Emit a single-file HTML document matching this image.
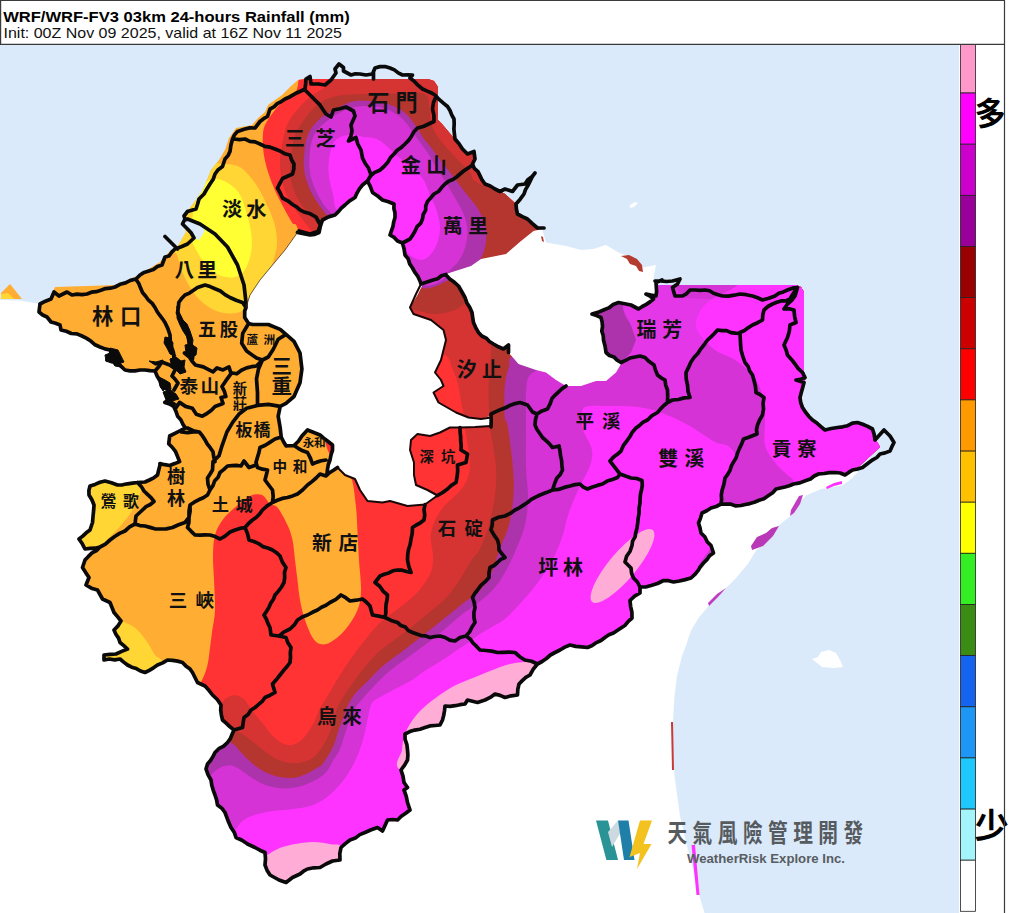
<!DOCTYPE html><html><head><meta charset="utf-8"><title>WRF Rainfall</title><style>html,body{margin:0;padding:0;background:#fff;font-family:"Liberation Sans",sans-serif}svg{display:block}</style></head><body><svg width="1024" height="913" viewBox="0 0 1024 913" style="display:block">
<rect width="1024" height="913" fill="#fff"/>
<rect x="0" y="45" width="959" height="868" fill="#dbeafa"/>
<path d="M0 300 L20 300.5 L40 304 L39 312 L47 317 L51 322 L60 325 L61 330 L82 336 L100 347 L110 350 L112 356 L107 360 L117 362 L125 370 L155 371 L159.9 380.7 L161.8 386.6 L169.7 390.6 L171.7 396.5 L164.8 402.4 L173.7 406.4 L177.6 416.2 L185.5 428 L169.7 436 L168.7 443.8 L175.6 451.7 L179.6 461.6 L169.7 465.5 L159.9 463.6 L160 465 L157.5 475 L145 482 L137.5 482.5 L117.5 485 L105 481 L90 486 L89 495 L94 505 L92.5 522.5 L90 530 L79 539 L85 549 L100 547 L85 560 L82.5 567.5 L89 577.5 L86 585 L97.5 590 L102.5 599 L110 602.5 L114 612.5 L121 621 L114 630 L120 642.5 L127.5 649 L116 654 L104 655 L104 660 L120 659 L127.5 665 L145 672.5 L157.5 665 L167.5 660 L182.5 662.5 L192.5 672.5 L197.5 682.5 L205 686 L212.5 695 L221 705 L222.5 720 L234 730 L227.5 742.5 L215 752.5 L207.5 764 L206 769 L211 780 L215 795 L217.5 805 L225 812.5 L231 827.5 L236 837.5 L247.5 844 L255 847.5 L265 852.5 L265 865 L270 875 L279 880 L286 882.5 L292.5 877.5 L300 874 L307.5 869 L320 867.5 L326 864 L332.5 861 L340 860 L341 847.5 L350 840 L365 832.5 L377.5 827.5 L382.5 831 L387.5 820 L397.5 820 L410 810 L407.5 802.5 L404 790 L407.5 787.5 L404 782.5 L401 770 L407.5 760 L407.5 750 L405 734 L425 727.5 L440 725 L442.5 720 L445 706 L465 704 L467.5 700 L477.5 702.5 L485 700 L495 694 L505 697.5 L517.5 695 L519 684 L530 675 L537.5 664 L555 652.5 L570 645 L587.5 647.5 L601 640.5 L613.5 633 L621 628 L632 618 L630 600.5 L640 593 L640 587 L651 585.5 L663.5 580.5 L673.5 582 L691 578 L703.5 563 L713.5 553 L711 545.5 L701 533 L698.5 523 L702 513 L711 508 L721 504 L741 505.5 L758.5 500.5 L768.5 495.5 L776 489 L793.5 484 L806 480.5 L818.5 474 L835 472.5 L845 475 L852.5 470 L858 472 L850 480 L842 485.5 L821 489 L806 495.5 L798.5 503 L791 515.5 L778.5 525.5 L771 538 L756 550.5 L748.5 563 L736 578 L726 588 L711 603 L698.5 618 L691 630.5 L686 645.5 L682 656 L677 676 L674.5 696 L672 736 L674.5 776 L680 816 L689.5 856 L699.5 896 L704.5 913 L0 913Z" fill="#fff"/>
<path d="M812 659l6-2 3-5 8-2 7 3 4 7 3 7-9 1-12-1-5-4z" fill="#fff"/>
<path d="M630 205l5-3 3 1-4 4-4 1z" fill="#fff"/>
<defs><clipPath id="cp"><path d="M39 305 L50 298 L55 287 L118 285 L137 276 L160 262 L170 251 L178 246 L186 232 L183 222 L184 214 L190 208 L196 200 L203 190 L207 180 L211 170 L219 160 L225 150 L229 138 L236 128 L252 125 L258 118 L265 112 L268 105 L282 95 L291 86 L298 80 L304 79 L428 79 L434 81 L438 87 L438 120 L442 124 L453 137 L458 146 L467 153 L474 151 L476 160 L473 164 L485 183 L500 191 L505 194 L516 204 L517.5 214 L527.5 219 L537.5 228 L542 229 L540 240 L560 260 L600 280 L640 286 L656 283 L657 285 L796 285 L801 287 L804 292 L804 372 L806 378 L804 382.5 L801 397.5 L803.5 407.5 L813 419.5 L825 429.5 L837.5 427 L857.5 422 L872.5 428.5 L876 440 L880 447 L866 460 L855 470 L845 475 L835 472.5 L818.5 474 L806 480.5 L793.5 484 L776 489 L768.5 495.5 L758.5 500.5 L741 505.5 L721 504 L711 508 L702 513 L698.5 523 L701 533 L711 545.5 L713.5 553 L703.5 563 L691 578 L673.5 582 L663.5 580.5 L651 585.5 L640 587 L640 593 L630 600.5 L632 618 L621 628 L613.5 633 L601 640.5 L587.5 647.5 L570 645 L555 652.5 L537.5 664 L530 675 L519 684 L517.5 695 L505 697.5 L495 694 L485 700 L477.5 702.5 L467.5 700 L465 704 L445 706 L442.5 720 L440 725 L425 727.5 L405 734 L407.5 750 L407.5 760 L401 770 L404 782.5 L407.5 787.5 L404 790 L407.5 802.5 L410 810 L397.5 820 L387.5 820 L382.5 831 L377.5 827.5 L365 832.5 L350 840 L341 847.5 L340 860 L332.5 861 L326 864 L320 867.5 L307.5 869 L300 874 L292.5 877.5 L286 882.5 L279 880 L270 875 L265 865 L265 852.5 L255 847.5 L247.5 844 L236 837.5 L231 827.5 L225 812.5 L217.5 805 L215 795 L211 780 L206 769 L207.5 764 L215 752.5 L227.5 742.5 L234 730 L222.5 720 L221 705 L212.5 695 L205 686 L197.5 682.5 L192.5 672.5 L182.5 662.5 L167.5 660 L157.5 665 L145 672.5 L127.5 665 L120 659 L104 660 L104 655 L116 654 L127.5 649 L120 642.5 L114 630 L121 621 L114 612.5 L110 602.5 L102.5 599 L97.5 590 L86 585 L89 577.5 L82.5 567.5 L85 560 L100 547 L85 549 L79 539 L90 530 L92.5 522.5 L94 505 L89 495 L90 486 L105 481 L117.5 485 L137.5 482.5 L145 482 L157.5 475 L160 465 L159.9 463.6 L169.7 465.5 L179.6 461.6 L175.6 451.7 L168.7 443.8 L169.7 436 L185.5 428 L177.6 416.2 L173.7 406.4 L164.8 402.4 L171.7 396.5 L169.7 390.6 L161.8 386.6 L159.9 380.7 L155 371 L125 370 L117 362 L107 360 L112 356 L110 350 L100 347 L82 336 L61 330 L60 325 L51 322 L47 317 L39 312Z"/></clipPath></defs>
<g clip-path="url(#cp)">
<rect x="0" y="40" width="1024" height="880" fill="#ffad33"/>
<path d="M222 163.8C227.4 164 233.2 164.2 237.6 166C242 167.8 244.8 170.7 248.5 174.7C252.2 178.7 256.2 184.5 259.5 190C262.8 195.5 265.6 201.8 268.2 207.6C270.8 213.4 273.3 219.2 274.8 225C276.3 230.8 277 237.5 277 242.6C277 247.7 276.3 250.4 274.8 255.8C273.3 261.2 271.3 267.6 268 275C264.7 282.4 258.6 294.5 255 300C251.4 305.5 249.2 305.9 246.3 308C243.4 310.1 241.6 311.9 237.6 312.7C233.6 313.5 227.4 313.8 222.3 312.7C217.2 311.6 211.8 309.3 207 306C202.2 302.7 197.8 298.4 193.8 293C189.8 287.6 185.6 279.6 182.8 273.3C180 267 178.8 259.7 177 255C175.2 250.3 170.7 254.2 172 245C173.3 235.8 179.5 213.3 185 200C190.5 186.7 198.8 171 205 165C211.2 159 216.6 163.6 222 163.8Z" fill="#ffd633"/>
<path d="M204.7 183.5C208 180 211.7 179 215.7 179C219.7 179 224.8 180.9 228.8 183.5C232.8 186.1 236.9 189.7 239.8 194.4C242.7 199.2 244.5 206.2 246.3 212C248.1 217.8 249.8 223.7 250.7 229.5C251.6 235.3 252.2 241.5 251.8 247C251.4 252.5 250.1 257.9 248.5 262.3C246.9 266.7 244.9 270.7 242 273.3C239.1 275.9 235.4 277.7 231 277.7C226.6 277.7 220.4 276.2 215.7 273.3C211 270.4 205.7 263.6 202.6 260C199.5 256.4 198.8 254.7 197 251.4C195.2 248.1 192.8 244.9 192 240C191.2 235.1 191.3 228.7 192 222C192.7 215.3 193.9 206.4 196 200C198.1 193.6 201.4 187 204.7 183.5Z" fill="#ffff33"/>
<path d="M85 476C94.3 465.3 118.7 474.7 128 476C137.3 477.3 139.2 480.5 141 484C142.8 487.5 140.5 492.5 139 497C137.5 501.5 135.2 506 132 511C128.8 516 123.4 522.5 119.6 527C115.8 531.5 112.3 534.2 109 537.7C105.7 541.2 104 545.1 100 548C96 550.9 89.7 556.3 85 555C80.3 553.7 72 553.2 72 540C72 526.8 75.7 486.7 85 476Z" fill="#ffd633"/>
<path d="M100 615C104.2 605.4 118.8 620 125 622.5C131.2 625 133.8 626.7 137.5 630C141.2 633.3 144.6 638.3 147.5 642.5C150.4 646.7 152.5 651.8 155 655C157.5 658.2 160.8 657.8 162.5 662C164.2 666.2 175.4 677 165 680C154.6 683 110.8 690.8 100 680C89.2 669.2 95.8 624.6 100 615Z" fill="#ffd633"/>
<path d="M300 60C299.5 64.8 299 83 297 89C295 95 291.7 92.5 288 96C284.3 99.5 278.8 105.2 275 110C271.2 114.8 267 120.4 265 125C263 129.6 263 132.5 262.8 137.5C262.6 142.5 263 149.2 263.9 155C264.8 160.8 266.4 166.7 268.2 172.5C270 178.3 272.2 184.2 274.8 190C277.4 195.8 280.7 202.1 283.6 207.6C286.5 213.1 289.7 219 292.3 223C294.9 227 294.4 218.9 299 231.7C303.6 244.5 312.3 271.9 320 300C327.7 328.1 344 378 345 400C346 422 328.5 422.8 326 432C323.5 441.2 326.8 448 330 455C333.2 462 341.3 469.8 345 474C348.7 478.2 350.2 474.5 352 480C353.8 485.5 355.1 498.3 356 507C356.9 515.7 357 523.2 357.5 532C358 540.8 358.4 550.3 359 560C359.6 569.7 361.2 581.7 361 590C360.8 598.3 360.2 603.3 357.5 610C354.8 616.7 349.6 624.6 345 630C340.4 635.4 334.2 640.2 330 642.5C325.8 644.8 322.9 644.8 320 644C317.1 643.2 315 641.5 312.5 637.5C310 633.5 307.1 626.2 305 620C302.9 613.8 301.2 606.7 300 600C298.8 593.3 298.3 586.7 297.5 580C296.7 573.3 295.8 566.7 295 560C294.2 553.3 293.8 545.8 292.5 540C291.2 534.2 290 530.4 287.5 525C285 519.6 280.4 511 277.5 507.5C274.6 504 272.6 506.1 270 504C267.4 501.9 265.3 496.3 262 495C258.7 493.7 254.5 493.9 250 496C245.5 498.1 239.6 503.5 235 507.5C230.4 511.5 225.8 515.4 222.5 520C219.2 524.6 216.6 529.2 215 535C213.4 540.8 213.2 547.5 213 555C212.8 562.5 213.7 570.8 214 580C214.3 589.2 215.3 601.3 215 610C214.7 618.7 212.8 625.7 212 632C211.2 638.3 210.8 642.5 210 648C209.2 653.5 208.8 659.7 207.5 665C206.2 670.3 204.9 674.2 202 680C199.1 685.8 192 696.7 190 700L150 760L150 930L1010 930L1010 40Z" fill="#ff3333"/>
<path d="M400 280C400 290.8 392.8 332.7 400 345C407.2 357.3 434.3 350.2 443 354C451.7 357.8 449.5 363 452 368C454.5 373 456.5 378.5 458 384C459.5 389.5 460 395.7 461 401C462 406.3 463.3 411.6 464 416C464.7 420.4 464 419.3 465 427.5C466 435.7 470.3 455.1 470 465C469.7 474.9 467.8 479.5 463 487C458.2 494.5 446.3 502.3 441 510C435.7 517.7 432.3 525.3 431 533C429.7 540.7 433 549.5 433 556C433 562.5 433 566.6 431 572C429 577.4 424.4 583.6 420.8 588.3C417.2 593 414 595.9 409.3 600C404.6 604.1 397.6 609 392.7 612.7C387.8 616.5 384.6 618 380 622.5C375.4 627 370 633.8 365 640C360 646.2 354.7 653.3 350 660C345.3 666.7 340.8 673.8 337 680C333.2 686.2 329.9 692.2 327 697C324.1 701.8 322.2 704 319.9 708.5C317.6 713 315.9 719 313.3 723.8C310.7 728.5 307.8 733.5 304.5 737C301.2 740.5 297.2 743.5 293.6 744.6C290 745.7 286.2 745.1 282.6 743.5C279 741.9 275 738.1 271.7 734.8C268.4 731.5 265.8 727.4 262.9 723.8C259.9 720.1 256.6 716.2 254 712.9C251.4 709.6 249.4 706.4 247.6 704C245.8 701.6 245.4 700.1 243.2 698.6C241 697.1 237.3 695.3 234.4 695.3C231.5 695.3 228.1 697.1 225.7 698.6C223.3 700.1 223.6 702.1 220.2 704C216.8 705.9 207.5 709 205 710L150 760L150 930L1010 930L1010 40L400 40Z" fill="#d63333"/>
<path d="M400 270C400 276.2 397.7 300.3 400 307C402.3 313.7 408.2 308.8 414 310C419.8 311.2 428.7 313.8 435 314C441.3 314.2 447.3 312.5 452 311C456.7 309.5 459.3 307.5 463 305C466.7 302.5 470.3 293.5 474 296C477.7 298.5 482.2 311.5 485 320C487.8 328.5 490.3 339 491 347C491.7 355 489.8 360.4 489.4 368C489 375.6 488.5 385.1 488.5 392.7C488.5 400.3 489.1 407.9 489.4 413.7C489.6 419.5 488.9 418.8 490 427.5C491.1 436.2 495.2 454.8 496 466C496.8 477.2 496.2 485.2 495 495C493.8 504.8 491.6 515.9 489 525C486.4 534.1 482.5 543.6 479.6 549.4C476.7 555.2 474.7 555.3 471.6 560C468.5 564.7 465.1 571.6 461 577.8C456.9 584 452.4 591.2 447 597C441.6 602.8 434.6 607.8 428.8 612.7C423 617.6 417.7 622 412.2 626.4C406.7 630.8 401 634.9 395.6 639C390.2 643.1 385.1 646.1 380 650.8C374.9 655.5 369.7 661.5 365 667C360.3 672.5 355.8 678.7 352 684C348.2 689.3 344.6 694.8 342 699C339.4 703.2 338.4 704.8 336.7 709.5C335 714.2 333.6 721.5 331.6 727C329.7 732.5 327.9 737.4 325 742.4C322.1 747.4 317.7 753.7 314 757C310.3 760.3 306.8 761 303 762C299.2 763 295.9 763.7 291.4 763.2C286.9 762.7 280.8 761.1 276 758.9C271.2 756.7 266.9 752.9 262.9 750C258.9 747.1 255.3 743.8 252 741.3C248.7 738.8 245.8 736.4 243.2 734.8C240.6 733.2 241.3 733.6 236.6 731.5C231.9 729.4 218.6 723.6 215 722L150 760L150 930L1010 930L1010 270Z" fill="#b4362f"/>
<path d="M330 60C291.7 62.7 330.7 71.7 330 76C329.3 80.3 329.3 82.5 326 86C322.7 89.5 314.8 93 310 97C305.2 101 300.8 105.3 297 110C293.2 114.7 289.5 119.2 287 125C284.5 130.8 283.2 138.3 282 145C280.8 151.7 279.8 158.3 280 165C280.2 171.7 281.2 178.7 283 185C284.8 191.3 287.7 197.2 291 203C294.3 208.8 299 214.7 303 220C307 225.3 310.5 230 315 235C319.5 240 319.2 245.5 330 250C340.8 254.5 365.8 257.8 380 262C394.2 266.2 406.3 272.2 415 275C423.7 277.8 426.2 279.5 432 279C437.8 278.5 442 274.8 450 272C458 269.2 461.7 267.3 480 262C498.3 256.7 546.7 273.7 560 240C573.3 206.3 598.3 90 560 60C521.7 30 368.3 57.3 330 60Z" fill="#d63333"/>
<path d="M425 94C420.2 92.1 409.2 93.5 400 93.5C390.8 93.5 379.2 93.8 370 94C360.8 94.2 351.7 94.3 345 95C338.3 95.7 334.8 96.2 330 98C325.2 99.8 320.3 102.3 316 106C311.7 109.7 307.5 115.2 304 120C300.5 124.8 297 130 295 135C293 140 292.8 144.2 292 150C291.2 155.8 289.8 163.7 290 170C290.2 176.3 291 182.2 293 188C295 193.8 298.5 199.7 302 205C305.5 210.3 310.2 215.5 314 220C317.8 224.5 320.7 227.8 325 232C329.3 236.2 330.8 240 340 245C349.2 250 367.5 257 380 262C392.5 267 406.3 272.2 415 275C423.7 277.8 426.2 279.5 432 279C437.8 278.5 442 274.8 450 272C458 269.2 461.7 267.3 480 262C498.3 256.7 546.7 247.8 560 240C573.3 232.2 573 224.2 560 215C547 205.8 497 192.2 482 185C467 177.8 474 176.2 470 172C466 167.8 462 164.2 458 160C454 155.8 449.7 151.3 446 147C442.3 142.7 438.5 138.2 436 134C433.5 129.8 432.2 126.8 431 122C429.8 117.2 430 109.7 429 105C428 100.3 429.8 95.9 425 94Z" fill="#b4362f"/>
<path d="M590 270C590 280 595 316.7 590 330C585 343.3 572.5 345.8 560 350C547.5 354.2 523.5 352 515 355C506.4 358 510.4 363.2 508.7 368C507 372.8 505.7 378.4 505 384C504.3 389.6 504.3 395.6 504.3 401.4C504.3 407.2 504.4 414.8 505 419C505.6 423.2 506.5 418.7 507.8 426.6C509.1 434.5 511.8 455 512.8 466.4C513.8 477.8 514.1 485.2 513.5 495C512.9 504.8 511.3 515.9 509 525C506.7 534.1 502.5 541.2 499.5 549.4C496.5 557.6 494.5 567.2 491 574.3C487.5 581.4 482.9 587.4 478.7 591.9C474.5 596.4 470.1 597.9 466 601C461.9 604.1 458.8 606.8 454.2 610.5C449.6 614.2 444 618.8 438.6 623C433.2 627.2 427.7 631.5 422 636C416.3 640.5 409.8 645.7 404.4 649.8C399 653.9 393.9 657.4 389.8 660.5C385.7 663.6 383.9 664.8 380 668.4C376.1 672 371 677.6 366.7 682C362.4 686.4 357.4 690.4 354 695C350.6 699.6 348.5 703.8 346 709.5C343.5 715.2 341.2 723 339 729.2C336.8 735.4 335.5 741.3 333 746.8C330.5 752.3 326.6 758.5 324 762C321.4 765.5 321.7 765.2 317.7 767.6C313.7 770 306 774.8 300.1 776.4C294.2 778 288.5 778.2 282.6 777.5C276.8 776.8 270.1 774.4 265 772C259.9 769.6 256 766.5 252 763.2C248 759.9 244.3 755.6 241 752.3C237.7 749 238.2 748 232.2 743.5C226.2 739 209.5 728.1 205 725L150 780L150 930L1010 930L1010 270Z" fill="#ad33ad"/>
<path d="M620 270C620.6 276.7 621.7 300.8 623.5 310C625.3 319.2 628.9 320 631 325C633.1 330 636 335.4 636 340C636 344.6 633.5 348.8 631 352.5C628.5 356.2 627.8 359.2 621 362.5C614.2 365.8 601.8 371.1 590 372C578.2 372.9 560 367.5 550 368C540 368.5 534 370.9 530 375C526 379.1 526.7 387.7 526 392.7C525.3 397.7 526 399.4 526 405C526 410.6 526 416.4 526 426.6C526 436.8 525.7 454.6 526 466.4C526.3 478.2 528.2 487.7 528 497.5C527.8 507.3 527 516.4 525 525C523 533.6 519.3 541.5 516 549.4C512.7 557.3 508.9 565.8 505 572.6C501.1 579.4 497.9 584.4 492.7 590C487.5 595.6 478.9 602.1 474 606C469.1 609.9 467.3 610.2 463 613.5C458.7 616.8 453.4 621.8 448.4 626C443.3 630.2 437.9 634.9 432.7 639C427.5 643.1 422.5 646.7 417 650.8C411.5 654.9 404.7 659.6 399.5 663.5C394.3 667.4 390 670.6 385.9 674.2C381.8 677.8 378.6 681.2 375 685C371.4 688.8 367.4 692.9 364 697C360.6 701.1 357.4 704.1 354.5 709.5C351.6 714.9 348.9 722.6 346.5 729.2C344.1 735.8 342.2 743.9 340 749C337.8 754.1 336.1 755.8 333.5 760C330.9 764.2 329 770 324.2 774.2C319.4 778.4 311.1 782.6 304.5 785C297.9 787.4 291.4 788.4 284.8 788.4C278.2 788.4 270.8 787 265 785C259.2 783 254.5 779.3 249.8 776.4C245.1 773.5 240.2 769.4 236.6 767.6C232.9 765.8 231.2 765 227.9 765.4C224.6 765.8 222.4 765.7 216.9 769.8C211.4 773.9 198.7 786.6 195 790L150 790L150 930L1010 930L1010 270Z" fill="#d633d6"/>
<path d="M620 283 L672 283 L684 298 L740 300 L740 333.5 L717.5 330 L707.5 340 L694 357.5 L686 372.5 L687.5 385 L690 397.5 L672.5 400 L667.5 402.5 L667.5 390 L665 380 L657.5 375 L654 365 L645 357.5 L640 356 L630 358 L621 362.5 L631 352.5 L636 340 L631 325 L623.5 310Z" fill="#e438e8"/>
<path d="M200 870C214.1 853.5 227.6 838.9 234.4 831C241.2 823.1 238.1 824.9 241 822.4C243.9 819.9 247.2 817.6 252 815.8C256.8 814 262.9 812.5 269.5 811.4C276.1 810.3 284.1 810.3 291.4 809.2C298.7 808.1 306.7 807.4 313.3 804.9C319.9 802.4 325.3 798.8 330.8 794C336.3 789.2 341.8 782.6 346.2 776.4C350.6 770.2 354.1 763.3 357 756.7C359.9 750.1 361.9 743.6 363.7 737C365.5 730.4 366.8 722.5 368 717.2C369.2 711.9 369.8 707.9 371 705C372.2 702.1 372.7 701.8 375 700C377.3 698.2 381 696.7 385 694.5C389 692.3 394.5 689.4 399 687C403.5 684.6 408 682.6 412.2 680C416.4 677.4 419.6 674.2 424 671.3C428.4 668.4 433.7 665.6 438.6 662.5C443.5 659.4 448.3 656 453.2 652.7C458.1 649.5 463.4 646.1 467.9 643C472.4 639.9 476 636.7 480 634C484 631.3 487.7 629.7 492 627C496.3 624.3 500.7 622.6 506 618C511.3 613.4 517.9 606.3 523.8 599.6C529.7 592.9 536.2 585 541.3 577.7C546.4 570.4 550.9 563.1 554.5 555.8C558.1 548.5 561 540.5 563.2 533.9C565.4 527.3 565.8 522.2 567.6 516.4C569.4 510.6 571.8 504.6 574.2 498.9C576.6 493.2 579.4 487.5 582 482C584.6 476.5 588.3 471.3 590 466C591.7 460.7 593 455.7 592 450C591 444.3 585.7 437 584 432C582.3 427 581.8 424.2 582 420C582.2 415.8 580.5 409.3 585 407C589.5 404.7 600.2 406 609 406C617.8 406 629.2 405.8 638 407C646.8 408.2 653.7 410 662 413C670.3 416 679.2 420.2 688 425C696.8 429.8 708.3 438.5 715 442C721.7 445.5 724.5 443.3 728 446C731.5 448.7 736 453.2 736 458C736 462.8 730.3 469.7 728 475C725.7 480.3 723.2 485.2 722 490C720.8 494.8 721.2 497.3 721 504C720.8 510.7 712.8 514 721 530C729.2 546 761.8 533.3 770 600C778.2 666.7 873.3 875 770 930C666.7 985 245 940 150 930C55 920 185.9 886.5 200 870Z" fill="#ff33ff"/>
<path d="M737.5 270C693.8 272.5 741.2 280.4 737.5 285C733.8 289.6 720.8 293.8 715 297.5C709.2 301.2 705.7 303.3 702.5 307.5C699.3 311.7 696.4 317.9 696 322.5C695.6 327.1 696.8 330.4 700 335C703.2 339.6 709.2 345.8 715 350C720.8 354.2 728.8 355.8 735 360C741.2 364.2 747.9 369.2 752.5 375C757.1 380.8 760.4 387.5 762.5 395C764.6 402.5 764.6 411.7 765 420C765.4 428.3 763.3 437.9 765 445C766.7 452.1 771.2 457.5 775 462.5C778.8 467.5 784.4 472 787.5 475C790.6 478 791.4 477.2 793.5 480.5C795.6 483.8 765.6 492.6 800 495C834.4 497.4 966.7 532.5 1000 495C1033.3 457.5 1043.8 307.5 1000 270C956.2 232.5 781.2 267.5 737.5 270Z" fill="#ff33ff"/>
<path d="M350.4 102C355.1 100.7 359.5 100.5 365.7 100.8C371.9 101.1 381.1 102 387.6 104C394.2 106 400.3 109.2 405 112.9C409.7 116.6 413.1 122 416 126C418.9 130 420.1 133.3 422.7 137C425.3 140.7 428.1 143.7 431.4 148C434.7 152.3 438.8 158.3 442.4 163C446 167.7 449.3 171.2 453.3 176.4C457.3 181.6 462.1 188.2 466.5 194C470.9 199.8 476.3 205.2 479.6 211.4C482.9 217.6 485.5 224.4 486.2 231C486.9 237.6 485.8 245.2 484 251C482.2 256.8 478.9 262.2 475.2 266C471.5 269.8 466.7 271.5 462 274C457.3 276.5 452 278.8 447 281C442 283.2 436.5 286.5 432 287.5C427.5 288.5 423.3 289.1 420 287C416.7 284.9 418.7 280.3 412 275C405.3 269.7 392 262.5 380 255C368 247.5 348.6 236.3 340 230C331.4 223.7 331.5 220.5 328.5 217C325.5 213.5 324.9 213.2 322 209C319.1 204.8 313.9 197.9 311 191.7C308.1 185.5 305.5 178.6 304.4 172C303.3 165.4 303.7 158.9 304.4 152.3C305.1 145.7 305.9 138.5 308.8 132.6C311.7 126.7 317.3 121 322 117C326.7 113 332.5 111 337.2 108.5C341.9 106 345.6 103.3 350.4 102Z" fill="#ad33ad"/>
<path d="M352.6 107.4C357.7 106.2 364.2 105.6 370 106C375.8 106.4 382.1 107.4 387.6 109.6C393.1 111.8 399 115.9 403 119.4C407 122.9 409 126.8 411.7 130.4C414.4 134.1 416.7 137.5 419.4 141.3C422.1 145.2 425.2 149.2 428 153.5C430.8 157.8 433.2 162.4 436 167C438.8 171.6 441.8 175.8 445 181C448.2 186.2 451.8 192.3 455 198C458.2 203.7 461.9 209.5 464 215C466.1 220.5 467.3 225.5 467.5 231C467.7 236.5 466.6 242.8 465 248C463.4 253.2 460.7 258.2 458 262C455.3 265.8 451.3 268.2 449 271C446.7 273.8 446.8 276.7 444 279C441.2 281.3 435.7 284.2 432 285C428.3 285.8 425 286.2 422 284C419 281.8 420.2 277.3 414 272C407.8 266.7 396.5 259.3 385 252C373.5 244.7 353.7 234.2 345 228C336.3 221.8 336.4 218.5 332.9 214.7C329.4 210.8 326.9 209.1 324 204.9C321.1 200.7 317.7 195 315.3 189.5C312.9 184 310.8 178.2 309.9 172C309 165.8 309.2 158.5 309.9 152.3C310.6 146.1 311.5 139.9 314.2 134.8C316.9 129.7 322.1 125.2 326.3 121.6C330.5 117.9 335 115.3 339.4 112.9C343.8 110.5 347.5 108.6 352.6 107.4Z" fill="#d633d6"/>
<path d="M339.4 212C333.2 208.5 334.8 200.7 333 194C331.2 187.3 328.9 179.3 328.5 172C328.1 164.7 329.3 155.5 330.7 150C332.1 144.5 333.7 141.5 337 139C340.3 136.5 346 135.1 350.4 134.8C354.8 134.5 359.1 136.3 363.5 137C367.9 137.7 372.7 137.3 376.7 139C380.7 140.7 384.4 144.3 387.6 147C390.8 149.7 392.4 151.9 396 155C399.6 158.1 405.1 161.5 409.5 165.4C413.9 169.3 419.3 173.7 422.7 178.6C426.1 183.5 427.6 189.4 430 195C432.4 200.6 435.3 206.3 437 212C438.7 217.7 440.2 223.3 440 229C439.8 234.7 438 241.3 436 246C434 250.7 430.9 254.7 428 257C425.1 259.3 421.8 260.3 418.3 259.6C414.9 258.9 411.2 256.3 407.3 253C403.4 249.7 401.2 246.3 395 240C388.8 233.7 379.3 219.7 370 215C360.7 210.3 345.6 215.5 339.4 212Z" fill="#ff33ff"/>
<ellipse cx="622.5" cy="566" rx="47" ry="13.5" transform="rotate(-50 622.5 566)" fill="#ffadd6"/>
<path d="M535 662C529.2 661.5 517.5 662.5 510 664C502.5 665.5 496.2 668.7 490 671C483.8 673.3 479 675.5 473 678C467 680.5 460 682.8 454 686C448 689.2 442.5 693 437 697C431.5 701 425.5 705.5 421 710C416.5 714.5 412.8 719.5 410 724C407.2 728.5 405.3 732.7 404 737C402.7 741.3 402.5 744.5 402 750C401.5 755.5 391.3 765.8 401 770C410.7 774.2 436 785.8 460 775C484 764.2 530.8 723 545 705C559.2 687 546.7 674.2 545 667C543.3 659.8 540.8 662.5 535 662Z" fill="#ffadd6"/>
<path d="M258 862C258.9 855.3 263.9 857.2 267.3 855C270.7 852.8 273.8 850.5 278.2 848.7C282.6 846.9 287.8 845.4 293.6 844.3C299.5 843.2 307.1 842 313.3 842C319.5 842 325.9 843 330.8 844.3C335.8 845.6 339.8 841.5 343 850C346.2 858.5 363.5 887.5 350 895C336.5 902.5 277.3 900.5 262 895C246.7 889.5 257.1 868.7 258 862Z" fill="#ffadd6"/>
<path d="M717 540L717 556L703 567L697 567L708 552Z" fill="#c238c8"/>
</g>
<path d="M246 307.5 L250 295 L260 280 L272.5 265 L285 250 L297.5 232.5 L310 235 L319 232.5 L322.5 220 L335 215 L345 205 L355 197.5 L362.5 185 L367.5 181 L372.5 192.5 L382.5 200 L394 204 L395 217.5 L390 235 L397.5 241 L402.5 243 L405 255 L412.5 268 L420 281 L422.5 285 L417.5 295 L410 307.5 L413.5 314 L431 320 L443.5 330 L446 340 L441 360 L435 372.5 L441 380 L443.5 386 L433.5 392.5 L438.5 402.5 L456 412.5 L468.5 417.5 L481 419 L490 416 L490 426 L475 427 L460 427.5 L450 427.5 L440 432.5 L430 436 L417.5 434 L411 440 L410 450 L414 462.5 L414 475 L416 485 L427.5 490 L437.5 495.5 L425 504.5 L407.5 506 L390 501 L382.5 502.5 L367.5 501 L360 490 L355 479 L345 475 L337.5 467.5 L327 474 L330 460 L332.5 445 L327.5 441 L320 435 L307.5 430 L301.9 436 L295 445.8 L286 445.8 L281.2 437 L280.2 428 L278.2 416.2 L280.2 406.4 L286 403.4 L294 396.5 L300 382.7 L301.9 368.9 L300 353 L294 341.3 L286 334.4 L280.2 329.4 L268.3 324.5 L252.6 324.5 L248.6 323.5 L244.7 317.6 L244.7 311Z" fill="#fff"/>
<path d="M542 229 L533.5 231 L521 241 L506 254 L481 259 L471 266 L446 274 L458.5 286 L465 297.5 L472 312.5 L473.5 322.5 L478.5 332.5 L493.5 344 L503.5 349 L508.5 345 L508.5 352.5 L518.5 364 L536 370 L546 372.5 L556 380 L566 386 L581 386 L596 381 L606 381 L616 372.5 L621 364 L606 352.5 L603.5 340 L601 317.5 L592 314 L603.5 310 L618.5 302.5 L631 305 L638.5 309 L653.5 299 L646 294 L656 296 L656 282.5 L653.5 277.5 L656 265 L643.5 267.5 L631 257.5 L618.5 252.5 L606 245 L593.5 249 L581 250 L566 246 L546 242.5Z" fill="#fff"/>
<path d="M621 256l8-1 8 4 5 6 1 7-4-1-3-5-6-2-3-5z" fill="#b53a30"/>
<path d="M541 236l2 1 1 5-2-1z" fill="#b53a30"/>
<path d="M1 293L10 284L22 299L1 299Z" fill="#ffad33"/><path d="M1 294L8 293L14 299L1 299Z" fill="#ffd633"/>
<path d="M826 487l8-4 8-2v3l-8 2-7 3z" fill="#ff33ff"/>
<path d="M799 496l4-1-3 9-6 9-4 3 1-6z" fill="#c03cc0"/>
<path d="M779 526l-6 10-10 10-11 4-1-4 6-9 9-4 6-5z" fill="#b838b8"/>
<path d="M726 588l-8 9-9 9-1-3 9-9z" fill="#c03cc0"/>
<path d="M691.5 845L695 845L699.5 895L696.5 895Z" fill="#ff33ff"/>
<path d="M671 722l2 0 1 48-2 0z" fill="#c83a3a"/>
<path d="M185 219L200 224L205 231L199 240L194 238L187.5 229L182.5 224Z" fill="#dbeafa"/>
<g fill="none" stroke="#0a0a0a" stroke-width="3.7" stroke-linejoin="round" stroke-linecap="round">
<path d="M40 304 L45.4 301.2 L51 299 L54 292 L59 296 L67 292 L72 295 L77 294.1 L82 294.6 L87 294 L91.5 292.2 L96.3 291.7 L100.9 290.3 L105.5 288.6 L110.3 288.2 L115 287 L120 284.3 L125.5 282.9 L130.5 280.4 L136 279 L140 275 L144.1 272.4 L148.8 270.9 L153.4 269.5 L157.4 266.5 L162 265 L165 257 L169 256 L171.7 252.2 L175 249 L181.3 246.7 L187.5 244 L194 238 L191.3 233.1 L187.5 229 L182.5 224 L185 219 L184 216 L187.5 211.5M187.5 211.5 L196 209 L197.6 204 L199 199 L204 194 L206.9 188.9 L210 184 L213.2 179.3 L215 174 L218.2 169.7 L222.5 166.5 L225 159 L228 155.6 L230 151.5 L230.9 145.2 L232.5 139 L234.5 134.9 L237.5 131.5 L245 129 L249.9 127.9 L255 128 L260 121.5 L263.6 118.7 L267.5 116.5 L270 109 L274 106.9 L277.2 103.6 L281.3 101.6 L285 99 L290.1 96.7 L294.9 93.8 L300 91.5 L305 89 L305.6 84 L306 79 L310 76.5 L311 84 L318.5 84 L325 85 L331 80 L336 73 L335 69 L339 64 L343.5 67.5 L343.5 71 L351 75 L355.4 73.8 L360 74 L366 75 L372.5 74 L375 68 L379.9 66.6 L385 66.5 L390 68 L394.4 69.9 L398.2 72.9 L402.5 75 L407.5 74.9 L412.5 75 L410 78 L414.4 81.4 L418.2 85.4 L422.5 89 L426.7 90.9 L431 92.7 L435 95 L438.8 99.2 L443.1 102.9 L447.5 106.5 L450 110.5 L451.7 114.9 L454 119 L454.2 124 L453.9 129 L454.4 134 L455 139 L459 143.8 L462.5 149 L467.5 154 L474 151.5 L475 159 L472.5 164 L474.3 168.4 L478 171.7 L480.1 175.9 L482.2 180.2 L485 184 L490.2 186 L495 189 L500 191.5 L505 189 L512.5 191.5 L517.5 185 L525 184 L527.8 179.8 L531.9 176.8 L535 173 L532.1 177 L530 181.5 L527.9 185.6 L525.5 189.6 L524 194 L520.2 199.2 L516 204 L516.4 209 L517.5 214 L522.4 216.6 L527.5 219 L532.4 223.6 L537.5 228 L544 228M655 281 L660.8 280.9 L666.7 281.5 L672.5 281 L680 279 L677.5 284 L672.5 287.5 L675 296 L682.5 296 L686.7 293.6 L690 290 L695 290 L700 290.3 L705 290 L709.6 290.8 L713.6 293.3 L718 294.7 L722.5 296 L728.4 296.1 L734.2 295.2 L740 294 L746.3 294.7 L752.5 296 L757.6 297.8 L762.5 300 L768.8 298.3 L775 296 L778.8 293.3 L783.3 291.9 L787.5 290 L792.4 288.2 L797.5 287.5 L795 296 L791.7 300.4 L787.5 304 L784 309 L789.1 308.8 L794 310 L794.6 316.3 L796 322.5 L790 325 L789.3 331.4 L787.5 337.5 L784 345 L786.1 349.9 L787.5 355 L791.4 359.4 L795 364 L798.3 368.6 L802.5 372.5 L805 377.5 L800.7 379.4 L796 380 L804 382.5 L802.7 387.5 L801.3 392.5 L800 397.5 L800.7 402.6 L802.5 407.5 L805.4 412 L808.7 416.2 L812.5 420 L816.9 423.1 L820.9 426.6 L825 430 L831.2 428.5 L837.5 427.5 L842.6 426.8 L847.7 425.7 L852.4 423.2 L857.5 422.5 L862.7 424.2 L867.7 426.4 L872.5 429 L874.2 434.4 L875 440 L879.5 435 L884 430 L890 436 L894 442.5 L891.9 446.7 L890 451 L885.1 452.9 L880 454 L876.8 457.5 L872.7 459.8 L869 462.5 L862.5 467.5 L857.6 469 L852.5 470 L848.7 472.4 L845 475 L840.2 473 L835 472.5 L829.5 472.7 L824 473.5 L818.5 474M797.5 287.5 L794.8 291.2 L792.3 295 L790 299 L785.8 300.9 L781.1 300.9 L776.8 302.3 L772.5 304 L767.9 306.5 L764 310 L762.8 314.9 L762.5 320 L757.6 322.7 L752.5 325 L748.4 327.6 L744.5 330.5 L740 332.5M818.5 474 L814.2 476 L810.5 479 L806 480.5 L799.9 482.9 L793.5 484 L789.3 485.7 L784.9 487 L780.4 488 L776 489 L772.7 492.8 L768.5 495.5 L763.9 498.7 L758.5 500.5 L754.3 502.3 L749.9 503.6 L745.4 504.5 L741 505.5 L735.9 505.9 L731 504.2 L726 504.2 L721 504 L716.2 506.5 L711 508M711 508 L706.7 510.8 L702 513 L700.5 518.1 L698.5 523 L700 527.9 L701 533 L704.8 536.8 L707.2 541.7 L711 545.5 L713.5 553 L709.6 555.8 L706.9 559.7 L703.5 563 L700.4 566.8 L697.8 570.9 L694.6 574.7 L691 578 L685.2 579.6 L679.4 581 L673.5 582 L668.6 580.7 L663.5 580.5 L657.5 583.5 L651 585.5 L645.6 587 L640 587M640 587 L640 593 L634.6 596.2 L630 600.5 L630.6 606.3 L631.9 612.1 L632 618 L628.3 621.3 L625.2 625.2 L621 628 L617.2 630.5 L613.5 633 L608.9 634.8 L604.9 637.5 L601 640.5 L596.4 642.6 L592.2 645.5 L587.5 647.5 L581.6 646.9 L575.8 646.4 L570 645 L564.8 647.1 L560 650 L555 652.5 L550.4 655 L546.4 658.5 L542.1 661.5 L537.5 664M537.5 664 L533.3 669.2 L530 675 L525.8 677.4 L522.3 680.6 L519 684 L517.8 689.4 L517.5 695 L511.2 695.8 L505 697.5 L500.1 695.4 L495 694 L490.2 697.4 L485 700 L477.5 702.5 L472.5 701.2 L467.5 700 L465 704 L460 704.7 L455.1 705.7 L450.1 706.3 L445 706 L444.5 710.7 L443.7 715.4 L442.5 720 L440 725 L434.9 725.5 L429.9 725.9 L425 727.5 L420 729.2 L414.8 730.1 L409.8 731.6 L405 734 L405.1 739.4 L406.9 744.6 L407.5 750 L407.9 755 L407.5 760 L404.6 765.2 L401 770 L403 776.1 L404 782.5 L407.5 787.5 L404 790 L406.2 796.1 L407.5 802.5 L410 810M410 810 L405.7 813.2 L401.3 816.2 L397.5 820 L392.5 819.5 L387.5 820 L385 825.5 L382.5 831 L377.5 827.5 L371.2 829.8 L365 832.5 L359.8 834.6 L355.3 838.1 L350 840 L345.3 843.6 L341 847.5 L339.8 853.7 L340 860 L332.5 861 L326 864 L320 867.5 L313.7 867.8 L307.5 869 L303.5 871.2 L300 874 L292.5 877.5 L286 882.5 L279 880 L274.5 877.5 L270 875 L267 870.2 L265 865 L265.5 858.8 L265 852.5 L259.9 850.2 L255 847.5 L247.5 844 L242 840.3 L236 837.5 L234.2 832.2 L231 827.5 L228.8 822.6 L226.9 817.6 L225 812.5 L221.8 808.2 L217.5 805 L216.6 799.9 L215 795 L213.2 790.1 L211.8 785.2 L211 780 L208 774.7 L206 769 L207.5 764 L210.5 760.5 L212.9 756.6 L215 752.5 L218.8 748.7 L223.7 746.2 L227.5 742.5 L230.3 738.7 L232.1 734.3 L234 730M234 730 L230 726.8 L226.4 723.3 L222.5 720 L221.4 715.1 L220.7 710.1 L221 705 L217.3 699.5 L212.5 695 L208.9 690.3 L205 686 L197.5 682.5 L195 677.5 L192.5 672.5 L189.7 668.7 L185.8 665.9 L182.5 662.5 L177.6 661.1 L172.6 660.3 L167.5 660 L162.7 662.9 L157.5 665 L153.5 667.8 L149.3 670.3 L145 672.5 L140.5 671 L136.3 668.6 L131.7 667.2 L127.5 665 L123.7 662.1 L120 659 L114.7 659.9 L109.3 659 L104 660 L104 655 L110 654.3 L116 654 L121.7 651.4 L127.5 649 L123.8 645.6 L120 642.5 L118.6 638.1 L115.9 634.2 L114 630 L118 625.9 L121 621 L117.5 616.7 L114 612.5 L112 607.5 L110 602.5 L102.5 599 L100 594.5 L97.5 590 L91.4 588.2 L86 585 L89 577.5 L85.7 572.6 L82.5 567.5 L85 560 L88.4 556.4 L92 552.9 L96.6 550.6 L100 547M100 547 L95.1 548.2 L90 548.4 L85 549 L82.3 543.8 L79 539 L82.7 536.1 L86.2 532.8 L90 530 L92.5 522.5 L93 516.7 L93.6 510.8 L94 505 L91.9 499.8 L89 495 L88.9 490.4 L90 486 L95 484.4 L99.9 482.3 L105 481 L111.4 482.7 L117.5 485 L122.6 484.8 L127.5 483.8 L132.5 483.2 L137.5 482.5M137.5 482.5 L145 482 L149.4 480 L153.7 477.9 L157.5 475 L158.7 470 L160 465 L159.9 463.6 L164.8 464.7 L169.7 465.5 L174.7 463.6 L179.6 461.6 L177.6 456.6 L175.6 451.7 L172.4 447.5 L168.7 443.8 L169.7 436 L174.9 433.3 L180.3 430.7 L185.5 428M185.5 428 L182.8 424.1 L180.8 419.7 L177.6 416.2 L175.9 411.2 L173.7 406.4 L169.5 403.9 L164.8 402.4 L168.7 400 L171.7 396.5 L169.7 390.6 L161.8 386.6 L159.9 380.7 L157.1 376 L155 371M155 371 L150 370.7 L145 370 L140 370 L135 370.9 L130 370.8 L125 370 L120.9 366.1 L117 362 L111.9 361.7 L107 360 L112 356 L110 350 L104.9 348.9 L100 347 L95.1 344.8 L91.1 341.3 L86.7 338.4 L82 336 L76.9 333.9 L71.3 333.5 L66.3 331.2 L61 330 L60 325 L55.6 323.3 L51 322 L47 317 L42.7 315 L39 312 L40 304M165 236.5 L177.5 249M185 220 L187.5 219 L200 224 L215 234 L227.5 247 L237.5 265 L244 285 L246 302.5 L246 307.5M234 139 L239.5 139.6 L245 139 L249.8 141.4 L255.1 141.9 L260 144 L264.8 146.4 L270.1 147.2 L275 149 L280 151 L284.7 153.7 L290 155 L291.5 159.7 L294 164 L293.8 169.1 L292.5 174 L287.5 176.3 L282.5 178.5 L280 183.2 L277.5 188 L280.2 192.9 L282.5 198 L287.8 200.8 L292.5 204.5 L296.5 206.8 L300 209.8 L304 212 L310.3 213.8 L316 217 L318.2 221 L320.5 225 L318 231.5 L310 234 L304.5 232.6 L299 231M305 90 L311 96 L316 101 L319.9 104.9 L322.9 109.5 L326 114 L331 117 L333.5 110 L339.8 108.7 L346 107 L353.5 111 L355 116 L353 120.5 L351 125 L352 131 L350.9 136.2 L348.5 141 L356 137.5 L357.8 144 L361 150 L362.5 158 L365.1 163.2 L368.5 168 L371 175 L367.5 181M373.5 72.5 L373.5 79M436 96.5 L433.5 102.5 L432.5 109 L433.9 115.2 L434 121.5 L428.6 124 L423.3 126.5 L417.5 128 L414 131.7 L411.5 136.2 L408.6 140.4 L405 144 L401.4 147.4 L397.2 150.2 L394 154 L390.3 157.8 L387.6 162.6 L384 166.5 L379.7 170.3 L374.3 172.6 L370 176.5M472.5 165 L468.3 167.9 L464 170.7 L460 174 L456.6 177 L452.9 179.6 L448.6 181.2 L445 184 L441.6 187.6 L438.5 191.5 L434 194 L430.8 197.8 L427.5 201.5 L425.8 205.7 L425.6 210.4 L423.2 214.5 L422.5 219 L420.6 223.4 L417 226.7 L415.1 231 L412.7 235.1 L410 239 L402.5 243M297.5 232.5 L303.7 233.8 L310 235 L314.7 234.4 L319 232.5 L320.4 226.1 L322.5 220 L328.5 216.9 L335 215 L338.4 211.7 L341.4 208 L345 205 L349.6 200.8 L355 197.5 L357 193.1 L359.4 188.8 L362.5 185 L367.5 181 L370.4 186.6 L372.5 192.5 L377.7 196 L382.5 200 L388.4 201.7 L394 204 L393.9 208.5 L395 213 L395 217.5 L393.7 221.9 L393 226.4 L391.5 230.7 L390 235 L394.2 237.4 L397.5 241 L402.5 243 L404.1 248.9 L405 255 L408.2 258.9 L409.7 263.9 L412.5 268 L414.9 272.4 L417.9 276.4 L420 281 L421 284M421 284 L427 282 L433 280 L437.6 278.8 L441.4 275.8 L446 274.5M446 275 L449.8 279 L454.4 282.3 L458.5 286 L461.8 291.7 L465 297.5 L466.8 302.7 L469.8 307.4 L472 312.5 L472.7 317.5 L473.5 322.5 L475.7 327.6 L478.5 332.5 L481.8 336 L486.2 338.1 L489.4 341.5 L493.5 344 L498.4 346.8 L503.5 349 L508.5 345 L508.5 352.5M491 427 L491.2 420.5 L491 414 L495.9 411.7 L500.9 409.4 L506 407.5 L510.4 405.2 L515.1 403.6 L520 402.5 L527.5 405 L532.5 412 L537 414 L542 410.9 L547.5 409 L550.1 403.9 L552 398.5 L555.2 395.1 L558.6 391.8 L562.1 388.6 L566 386M537 414 L535.5 419.4 L535 425 L537 429.5 L539.8 433.5 L542.5 437.5 L546.1 440.6 L549.5 443.9 L552.5 447.5 L559 446 L560 450.8 L560.5 455.6 L561.6 460.3 L561.9 465.2 L562.5 470 L560.3 474.4 L556.9 478 L555 482.5 L552.5 490M552.5 490 L558.5 489.4 L564.2 487.4 L570 486 L574.9 484.6 L580 484 L583.3 487.1 L587.5 489 L592.4 487 L597.4 485.4 L602.5 484 L607.2 481.1 L612.4 479.5 L617.5 477.5 L620 474M620 474 L616.6 469.7 L613.3 465.3 L610 461 L613.3 457.3 L617.3 454.3 L621 451 L623.3 445.7 L626.7 441.1 L630 436.5 L632.5 431.9 L636 428 L639.7 425.2 L643.2 422.1 L647.5 420 L652 415.6 L657.5 412.5 L660.6 408.9 L663.9 405.5 L667.5 402.5M621 362.5 L625.6 360.4 L630 358 L635 357 L640 356 L645 357.5 L649.2 361.6 L654 365 L655.5 370.1 L657.5 375 L661.1 377.8 L665 380 L665.7 385.1 L667.5 390 L667.7 396.2 L667.5 402.5M621 362.5 L617.1 360.2 L613.9 356.9 L609.4 355.5 L606 352.5 L605.1 346.2 L603.5 340 L603.2 335.5 L601.8 331.1 L602.5 326.4 L602.1 321.9 L601 317.5 L596.6 315.6 L592 314 L597.9 312.4 L603.5 310 L608.7 307.9 L613.2 304.5 L618.5 302.5 L624.7 303.8 L631 305 L638.5 309 L642.3 306.5 L646.3 304.4 L650 301.9 L653.5 299 L650 296.1 L646 294 L651 295.1 L656 296 L656.6 291.5 L656.3 287 L656 282.5 L662 280M667.5 402.5 L672.5 400 L678.4 399.5 L684.1 397.9 L690 397.5 L688 391.4 L687.5 385 L686.2 378.8 L686 372.5 L688.5 367.4 L690.8 362.2 L694 357.5 L697.8 353.5 L700.8 348.8 L704.3 344.5 L707.5 340 L711 336.8 L714.4 333.5 L717.5 330 L722 330.7 L726.6 330.6 L730.9 332.6 L735.4 333.2 L740 333.5M740 333.5 L740.3 339 L740.6 344.5 L741 350 L742.8 356.3 L745 362.5 L748.1 366.3 L749.7 371 L752.5 375 L754.1 380.8 L755.5 386.5 L756 392.5 L760.2 394.7 L764 397.5 L763.1 403.3 L763.5 409.2 L762.5 415 L759.7 419.8 L757.5 425 L756.5 429.5 L757 434 L752.5 435.7 L748.1 437.5 L743.5 439 L741.7 443.8 L739.5 448.4 L737.5 453.1 L736 458 L733.6 461.9 L731.4 465.9 L730 470.3 L727.7 474.3 L725 478 L723.9 484.3 L722 490.5 L721.3 495 L721.6 499.5 L721 504M620 474 L625.5 476.1 L631 478 L636.7 478.5 L642 480.5 L642.3 485.1 L641.6 489.5 L640.5 494 L640.1 498.5 L640 503 L639.1 508 L639.1 513 L638.2 518 L637.7 523 L637 528 L635.8 532.4 L635.1 536.9 L632.6 541 L632 545.5 L630.1 551.2 L626.6 556.2 L625 562 L631 568 L631.6 573.2 L633.5 578 L637.4 582 L640 587M552.5 490 L546.3 492.6 L540 495 L535.6 497.1 L531.3 499.4 L527.5 502.5 L523.4 505.1 L519.4 507.8 L515 510 L510.2 513.4 L505 516 L498.5 517.3 L492.5 520 L492.2 525.1 L491 530 L494.1 535.1 L497.5 540 L498.8 544.9 L499 550 L502 553.8 L505 557.5 L500.8 559.4 L497.5 562.5 L494.1 565.5 L490 567.5 L489 572.4 L489 577.5 L485.2 581.7 L480.9 585.4 L477.5 590 L474.7 593.6 L472.5 597.5 L474.2 602.4 L475 607.5 L473.9 612.7 L474 618 L475 622.5 L472 627 L469.6 631.9 L466 636M466 636 L470.1 638.9 L473 643 L476.6 646.4 L480 650 L485.9 650.5 L491.7 651.1 L497.5 652.5 L503.3 652.3 L509.2 652.2 L515 652.5 L519.7 656.7 L525 660 L531.5 661.2 L537.5 664M385 617.5 L391.1 620.4 L397.5 622.5 L400.9 625.5 L405.3 627 L408.4 630.6 L412.5 632.5 L416.8 634.1 L421.1 635.6 L425.7 635.9 L430 637.5 L435 636.5 L440 636 L445.1 637.5 L449.7 640.1 L455 641 L460 637.5 L466 636M460 427.5 L460.1 432 L460.6 436.5 L460.7 441 L461.2 445.5 L461 450 L467.5 454 L466 462.5 L457.5 465 L457.7 470.9 L457.1 476.7 L456 482.5 L451.4 485.3 L447.5 489 L442.7 492.5 L437.5 495.5M425 504.5 L424 509.6 L424.7 514.9 L424 520 L420.4 522.8 L416.3 525 L412.5 527.5 L412.2 533.4 L411 539.2 L410 545 L408.4 549.9 L407.7 554.9 L407.5 560 L408.8 566.4 L411 572.5 L406.5 571.5 L402.1 570.2 L397.5 570 L392.9 570.8 L388.7 572.9 L384.3 574.2 L380 576 L375 582.5 L379.7 586.2 L383.1 591.1 L387.5 595 L387.1 599.5 L386.1 604 L385.8 608.5 L385.8 613 L385 617.5M279 636 L284.1 631.9 L290 629 L294.3 624.9 L297.5 620 L302.2 617 L307.5 615 L312.4 612.3 L317.5 610 L321.5 607.2 L326 605.3 L330 602.5 L335.9 599.4 L341 595 L345.7 597.7 L350 601 L356.3 600.2 L362.5 599 L366.5 602.3 L370 606 L371.2 610.5 L372.5 615 L378.8 616.1 L385 617.5M245 527.5 L247.5 533.6 L249 540 L253.9 541.5 L258.6 543.6 L262.8 546.6 L267.8 548 L272.5 550 L276.5 552.7 L280 556 L282.4 562.1 L286 567.5 L284.5 572.4 L284.7 577.5 L284 582.5 L281.5 587 L278.4 591.1 L275 595 L273.4 599.3 L270.8 603.1 L269 607.3 L266.6 611.2 L264 615 L266.3 619 L267.9 623.4 L270 627.5 L271 635 L279 636M279 636 L286 637.5 L287.9 642.8 L291 647.5 L290.3 652.5 L290.5 657.5 L290 662.5 L286.8 666.8 L283.3 670.8 L280 675 L276.4 679.6 L272.5 684 L275 692.5 L270.1 695.2 L265 697.5 L262.2 701.3 L258.6 704.4 L255 707.5 L250.8 710.3 L248.1 714.6 L244 717.5 L243.2 722.5 L242.5 727.5 L234 730M337.5 467.5 L333.5 470.2 L329.5 472.7 L326 476 L320 474 L316.1 478 L311.9 481.6 L307.5 485 L302.8 489.8 L297.5 494 L292.6 495.9 L287.5 497.5 L282.3 498.4 L277.3 500.3 L272.5 502.5M272.5 502.5 L267.1 505.8 L262.5 510 L259.7 513.9 L256.4 517.2 L252.5 520 L248.5 523.5 L245 527.5M294 445.5 L298.4 441.2 L301.9 436 L307.5 430 L313.8 432.5 L320 435 L323.7 438.1 L327.5 441 L332.5 445 L332.5 450.1 L331 455 L330 460 L328.3 464.5 L327.5 469.2 L327 474M294 445.5 L298.2 448.3 L302.7 450.8 L307.5 452.5 L310.4 458.1 L312.5 464 L316.8 462.1 L321.3 460.8 L326 460M256 462.5 L257.4 457.5 L258.9 452.6 L260 447.5 L265.3 445.3 L270.2 442.1 L275 439 L281.2 437 L283.4 441.5 L286 445.8 L294 445.5M256 462.5 L257.5 467.5 L262.4 469.2 L267.5 470 L266.3 475 L265 480 L268.7 485 L272.5 490 L273.2 496.2 L272.5 502.5M210 490 L212.9 485.8 L214.6 481 L218.1 477.2 L220 472.5 L223.9 469.4 L227.5 466 L232 465.7 L236.5 465.4 L241 466 L244 461 L249 467.5 L256 465M210 490 L207.5 495 L203.3 497.8 L198.6 499.8 L194.2 502.2 L190 505 L190.1 511.3 L189 517.5 L188.9 522.6 L187.5 527.5 L191.2 531.3 L195 535 L200 535.1 L205 534.8 L210 535 L215.2 536.6 L220 539 L225.1 536.1 L229.6 532.3 L235 530 L239.9 528.4 L245 527.5M219 455.7 L213 461.6 L212.5 470 L210.1 474 L207.5 478 L208 484.1 L210 490M257.5 405.4 L246.6 408.3 L238.8 414.3 L232.8 422.1 L226.9 432 L222 445.8 L219 455.7M280.2 406.4 L278.2 416.2 L280.2 428 L281.2 437M257.5 405.4 L268.3 404.4 L280.2 406.4M286 334.4 L294 341.3 L300 353 L301.9 368.9 L300 382.7 L294 396.5 L286 403.4 L280.2 406.4M262.4 360 L258.5 368.9 L256.5 378.8 L257.5 392.6 L257.5 405.4M248.6 323.5 L252.6 324.5 L268.3 324.5 L280.2 329.4 L286 334.4 L278.2 339.3 L273.3 349.2 L268.3 357 L262.4 360 L256.5 358 L246.6 351.1 L241.7 343.3 L242.7 333.4 L248.6 323.5M246 307.5 L244.7 311 L244.7 317.6 L248.6 323.5M262.4 360 L256.5 366 L251.5 366.7 L246.6 367.9 L241.4 370.3 L236.8 373.8 L230.9 372.8 L228.9 366.9 L223 369.9 L217 367.9 L213 371.9 L208.1 369.4 L203.3 366.9 L195.4 365 L192.1 361.3 L189.4 357 L184.5 353M178.8 302.5 L181.6 298.5 L185 295 L189.5 293.1 L193.5 290.3 L197.5 287.5 L205 285 L210.1 286.6 L215 288.8 L220.4 291 L225 294.6 L230 297.5 L236.1 300.3 L242.5 302.5 L246 307.5M178.8 302.5 L178.3 307.8 L177.5 313 L179.9 317.1 L181.6 321.6 L184.3 325.7 L187.5 329.4 L187.8 335.5 L189.4 341.3 L191.8 346 L193.4 351.1 L192.4 359M136 279.5 L138.8 283.5 L140.6 288.1 L142.5 292.5 L145.7 296.2 L148.5 300.2 L152.2 303.4 L155 307.5 L157.1 311.5 L159.7 315.2 L162.5 318.8 L165 322.5 L167.9 328.6 L170 335 L170.3 341.6 L172 348 L173.5 352.9 L173.9 358.1 L175.6 363M230.9 373.8 L225.9 380.7 L222 386.6 L224.4 391.4 L225.9 396.5 L221 397.5 L223 403.4 L215 406.4 L211.4 410.2 L207.2 413.3 L202.3 416.2 L196.3 414.3 L192.4 408.3 L185.5 406.4 L179.6 402.4 L175.6 408.3M155 371 L158.7 366.8 L161.8 362 L169.7 365 L175.6 368.9 L172 376 L175.2 379.3 L178 383 L174 390M181.6 432 L187.5 432.7 L193.4 432 L199.3 432 L202.3 435.7 L204.9 439.6 L207.2 443.8 L210.2 447.7 L213 451.7 L213.7 456.7 L215 461.6M185.5 428 L187.5 428 L193.2 430.7 L199.3 432M137.5 482.5 L141.2 486.4 L144 491 L147.5 494.4 L151 497.7 L154 501.5M100 547 L105.4 544.1 L110 540 L114.7 536.5 L119.6 533.4 L125 531 L129.6 526.9 L135 524M154 501.5 L150.3 504.5 L146 506.7 L142.5 510 L136 516 L135 524M135 524 L139.9 525.6 L145 526 L149.9 527.4 L154.8 528.8 L160 529 L166.3 528.9 L172.5 527.5 L178.6 524.7 L185 522.5 L189 517.5M189 517.5 L189 511.2 L190 505"/>
</g>
<g fill="none" stroke="#1a0808" stroke-width="2" stroke-linejoin="round" stroke-linecap="round">
<path d="M421 284 L416 294 L410 307.5 L413.5 314 L431 320 L443.5 330 L446 340 L441 360 L435 372.5 L441 380 L443.5 386 L433.5 392.5 L438.5 402.5 L456 412.5 L468.5 417.5 L481 419 L491 417.5M337.5 467.5 L345 475 L355 479 L360 490 L367.5 501 L382.5 502.5 L390 501 L407.5 506 L425 504.5 L437.5 495.5M460 427.5 L475 427 L491 426M460 427.5 L450 427.5 L440 432.5 L430 436 L417.5 434 L411 440 L410 450 L414 462.5 L414 475 L416 485 L427.5 490 L437.5 495.5"/>
</g>
<path d="M246 307.5 L250 295 L260 280 L272.5 265 L285 250 L297.5 232.5" fill="none" stroke="#4a3510" stroke-width="1" stroke-opacity="0.8"/>
<g fill="#0a0a0a" stroke="#0a0a0a" stroke-width="1" stroke-linejoin="round">
<path d="M110 348 L118 350 L121 356 L124 362 L118 364 L121 367 L115 366 L112 362 L106 361 L105 355 L110 353ZM165 337 L170 338 L173 343 L172 350 L176 356 L170 354 L167 348 L164 343ZM177 306 L180 314 L183 320 L187 324 L190 331 L193 340 L192 347 L188 345 L187 337 L183 331 L180 325 L177 318ZM185 345 L191 344 L197 348 L196 355 L191 357 L186 353ZM170 359 L176 357 L181 361 L185 360 L184 367 L186 372 L180 374 L176 370 L172 368ZM149 361 L156 362 L163 360 L161 365 L155 365ZM159 377 L165 380 L170 383 L171 389 L166 387 L163 391 L160 386ZM163 392 L170 390 L176 394 L179 399 L172 401 L178 405 L170 404 L166 400Z"/>
</g>
<g font-family="'Liberation Sans','Noto Sans CJK TC',sans-serif" font-weight="bold" fill="#111">
<text x="367.2 395.4" y="110.5" font-size="22.2">石門</text>
<text x="284.7 315.4" y="146.2" font-size="20.2">三芝</text>
<text x="400.6 426.3" y="172.7" font-size="20.5">金山</text>
<text x="443 468.2" y="233.2" font-size="19.7">萬里</text>
<text x="222 246.2" y="217.2" font-size="20.2">淡水</text>
<text x="174.5 197.2" y="277.1" font-size="19.8">八里</text>
<text x="92.1 119.9" y="324.1" font-size="21.3">林口</text>
<text x="198 219.8" y="335.9" font-size="18.2">五股</text>
<text x="179.6 200.6" y="393.4" font-size="18.6">泰山</text>
<text x="232.7" y="394.3" font-size="14.3">新</text>
<text x="232.7" y="409.2" font-size="14.3">莊</text>
<text x="246.4 263.4" y="344.3" font-size="11.7">蘆洲</text>
<text x="271.4" y="373.5" font-size="20.5">三</text>
<text x="271.4" y="394.2" font-size="20.5">重</text>
<text x="235.5 253.6" y="436.4" font-size="16.9">板橋</text>
<text x="302.7 314" y="446.8" font-size="11.6">永和</text>
<text x="272.5 292.8" y="472.4" font-size="14.6">中和</text>
<text x="211.7 235.6" y="510.9" font-size="17.2">土城</text>
<text x="312 338.6" y="549.5" font-size="19.8">新店</text>
<text x="419.6 441" y="462.3" font-size="14.4">深坑</text>
<text x="437.8 464.6" y="534.5" font-size="18.5">石碇</text>
<text x="575.4 602.1" y="428.3" font-size="18.5">平溪</text>
<text x="538.3 562.9" y="574.5" font-size="20">坪林</text>
<text x="456.7 481.9" y="376.9" font-size="19.9">汐止</text>
<text x="636.4 662.2" y="336.9" font-size="19.9">瑞芳</text>
<text x="658.3 684.6" y="465.6" font-size="19.9">雙溪</text>
<text x="771.7 797" y="455.7" font-size="19.7">貢寮</text>
<text x="167.1" y="483" font-size="18.2">樹</text>
<text x="167.1" y="504.6" font-size="18.2">林</text>
<text x="100.6 122.9" y="507.3" font-size="15.9">鶯歌</text>
<text x="168.8 195.6" y="606.9" font-size="18.5">三峽</text>
<text x="317 341.9" y="724.4" font-size="19.9">烏來</text>
</g>
<g>
<path d="M596 820.5L608 820.5L618 860L606.4 860Z" fill="#2a9396"/>
<path d="M608 832L618 820.5L621 832L612 847Z" fill="#cdd9e1"/>
<path d="M618 820.5L628.5 820.5L634.5 860L624 860Z" fill="#1f7fa8"/>
<path d="M640 820.5L652 820.5L643.5 844L651.5 844L637 869L640 853L629.5 857Z" fill="#f3c21f"/>
<text transform="translate(667.4 841.7) scale(0.8008 1)" x="0 31.47 62.81 94.28 125.62 157.09 188.44 219.91" y="0" font-family="'Liberation Sans','Noto Sans CJK TC',sans-serif" font-weight="bold" font-size="24.6" fill="#565b60">天氣風險管理開發</text>
<text x="687" y="862.5" font-family="Liberation Sans, sans-serif" font-weight="bold" font-size="13.5" fill="#585d62" textLength="158" lengthAdjust="spacingAndGlyphs">WeatherRisk Explore Inc.</text>
</g>
<rect x="975.5" y="45" width="28.5" height="868" fill="#fff"/>
<rect x="960.5" y="44.5" width="15" height="48.5" fill="#ff99cc" stroke="#222" stroke-width="0.8"/>
<rect x="960.5" y="93" width="15" height="51.2" fill="#ff00ff" stroke="#222" stroke-width="0.8"/>
<rect x="960.5" y="144.2" width="15" height="51.2" fill="#cc00cc" stroke="#222" stroke-width="0.8"/>
<rect x="960.5" y="195.3" width="15" height="51.1" fill="#990099" stroke="#222" stroke-width="0.8"/>
<rect x="960.5" y="246.4" width="15" height="51.2" fill="#990000" stroke="#222" stroke-width="0.8"/>
<rect x="960.5" y="297.6" width="15" height="51.1" fill="#cc0000" stroke="#222" stroke-width="0.8"/>
<rect x="960.5" y="348.8" width="15" height="51.1" fill="#ff0000" stroke="#222" stroke-width="0.8"/>
<rect x="960.5" y="399.9" width="15" height="51.2" fill="#ff9900" stroke="#222" stroke-width="0.8"/>
<rect x="960.5" y="451.1" width="15" height="51.1" fill="#ffc000" stroke="#222" stroke-width="0.8"/>
<rect x="960.5" y="502.2" width="15" height="51.1" fill="#ffff00" stroke="#222" stroke-width="0.8"/>
<rect x="960.5" y="553.3" width="15" height="51.2" fill="#33ee22" stroke="#222" stroke-width="0.8"/>
<rect x="960.5" y="604.5" width="15" height="51.1" fill="#3a8c14" stroke="#222" stroke-width="0.8"/>
<rect x="960.5" y="655.6" width="15" height="51.1" fill="#1464f0" stroke="#222" stroke-width="0.8"/>
<rect x="960.5" y="706.8" width="15" height="51.1" fill="#1e96f5" stroke="#222" stroke-width="0.8"/>
<rect x="960.5" y="757.9" width="15" height="51.2" fill="#1ec8fa" stroke="#222" stroke-width="0.8"/>
<rect x="960.5" y="809.1" width="15" height="51.1" fill="#a5f3fb" stroke="#222" stroke-width="0.8"/>
<rect x="960.5" y="860.2" width="15" height="51.1" fill="#ffffff" stroke="#222" stroke-width="0.8"/>
<text x="974.6" y="124.5" font-family="'Liberation Sans','Noto Sans CJK TC',sans-serif" font-weight="bold" font-size="31.4" fill="#000">多</text>
<text x="974.4" y="837.8" font-family="'Liberation Sans','Noto Sans CJK TC',sans-serif" font-weight="bold" font-size="34.4" fill="#000">少</text>
<rect x="0" y="0" width="1005" height="45" fill="#fff"/>
<path d="M0.6 44.5V0.5H1004.5V913M0 44.3H1004.5" fill="none" stroke="#3a3a3a" stroke-width="1.2"/>
<text x="3.2" y="21.9" font-family="Liberation Sans, sans-serif" font-weight="bold" font-size="14.8" fill="#000" textLength="346.5" lengthAdjust="spacingAndGlyphs">WRF/WRF-FV3 03km 24-hours Rainfall (mm)</text>
<text x="3.5" y="37.9" font-family="Liberation Sans, sans-serif" font-size="14.8" fill="#111" textLength="338.5" lengthAdjust="spacingAndGlyphs">Init: 00Z Nov 09 2025, valid at 16Z Nov 11 2025</text>
</svg></body></html>
